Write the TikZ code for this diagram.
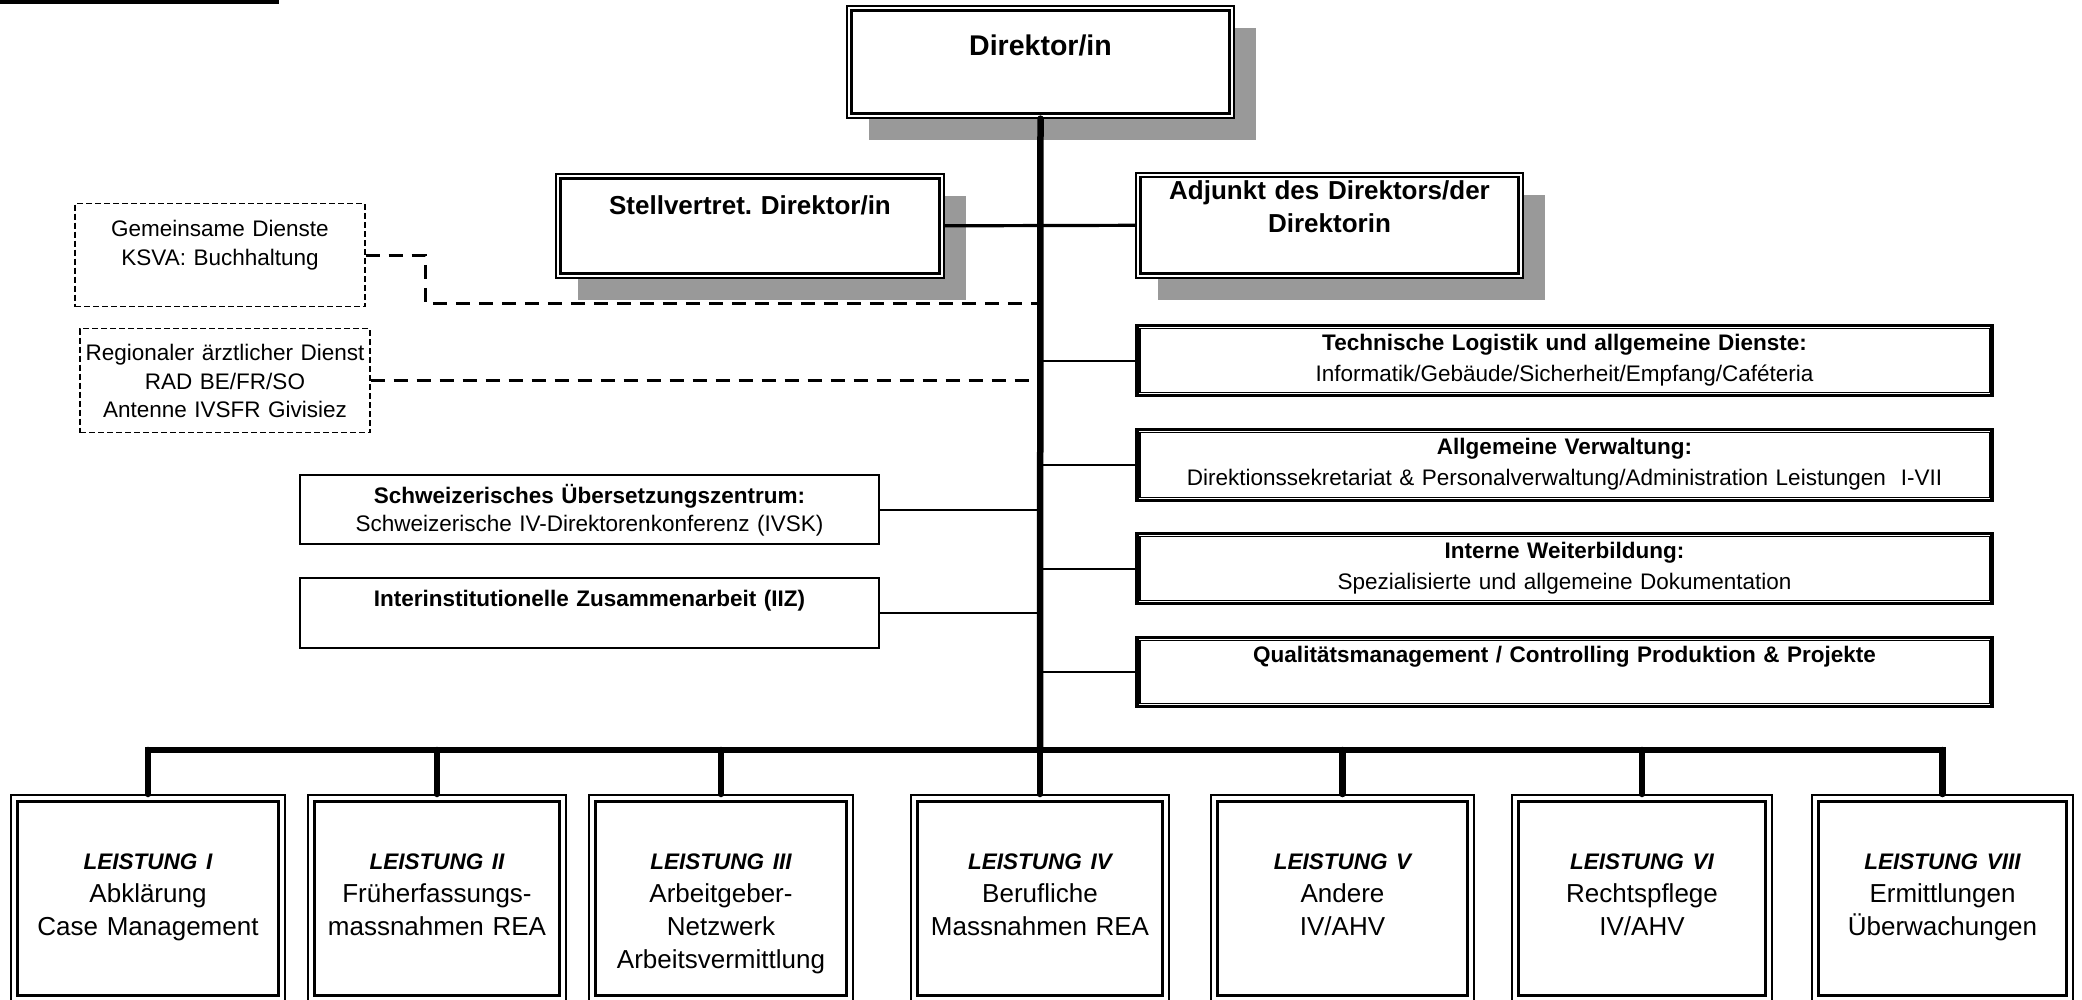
\documentclass[tikz,border=0pt]{standalone}
\usepackage{fontspec}
\setmainfont{Liberation Sans}
\frenchspacing
\usetikzlibrary{calc}
\usetikzlibrary{shadows}
\definecolor{shadowgray}{HTML}{999999}
\tikzset{chief/.style={draw, line width=1.6pt, fill=white, inner sep=0pt, align=center, anchor=north,
    font=\bfseries\fontsize{26}{33}\selectfont,
    drop shadow={shadow xshift=22pt, shadow yshift=-22pt, fill=shadowgray, opacity=1}}}
\tikzset{staff/.style={draw, line width=3.2pt, fill=white, inner sep=0pt, align=center, anchor=north,
    text width=855pt, text height=25pt, font=\fontsize{22.5}{30.5}\selectfont}}
\tikzset{side/.style={draw, line width=2pt, inner sep=0pt, align=center, anchor=north,
    text width=579pt, text height=28pt, font=\fontsize{22.5}{28}\selectfont}}
\tikzset{ext/.style={draw, dash pattern=on 6pt off 3pt, line width=1.4pt, inner sep=0pt, align=center,
    anchor=north, text width=290pt, font=\fontsize{22.5}{28.5}\selectfont}}
\tikzset{leist/.style={draw, line width=1.6pt, inner sep=0pt, align=center, anchor=north,
    text height=75pt, text depth=132pt, font=\fontsize{26}{33}\selectfont}}
\tikzset{trunk/.style={line width=6.5pt, line cap=round}}
\tikzset{branch/.style={line width=2pt}}
\tikzset{ext link/.style={line width=3pt, dash pattern=on 14pt off 9pt}}
\newcommand{\ltitle}[1]{{\fontsize{22.5}{33}\selectfont\bfseries\itshape #1}}

\begin{document}
\begin{tikzpicture}[x=1pt, y=-1pt]
    \useasboundingbox (0,0) rectangle (2082,999);

    \node[chief, text width=387pt, text height=50pt, text depth=62pt, font=\bfseries\fontsize{28.5}{34}\selectfont] (dir) at (1040.5,5) {Direktor/in};
    \node[chief, text width=388pt, text height=41pt, text depth=63pt] (stv) at (750,173) {Stellvertret. Direktor/in};
    \node[chief, text width=387pt, text height=27pt, text depth=78pt] (adj) at (1329.5,172) {Adjunkt des Direktors/der\\Direktorin};

    \node[ext, text height=33pt, text depth=70pt] (gd) at (220,203) {Gemeinsame Dienste\\KSVA: Buchhaltung};
    \node[ext, text height=32pt, text depth=72pt] (rad) at (225,328) {Regionaler ärztlicher Dienst\\RAD BE/FR/SO\\Antenne IVSFR Givisiez};

    \node[side, text depth=41pt] (sch) at (589.5,474) {\textbf{Schweizerisches Übersetzungszentrum:}\\Schweizerische IV-Direktorenkonferenz (IVSK)};
    \node[side, text depth=42pt] (iiz) at (589.5,577) {\textbf{Interinstitutionelle Zusammenarbeit (IIZ)}};

    \node[staff, text depth=45pt] (tech) at (1564.5,324) {\textbf{Technische Logistik und allgemeine Dienste:}\\Informatik/Gebäude/Sicherheit/Empfang/Caféteria};
    \node[staff, text depth=46pt] (allg) at (1564.5,428) {\textbf{Allgemeine Verwaltung:}\\Direktionssekretariat \& Personalverwaltung/Administration Leistungen\ \ I-VII};
    \node[staff, text depth=45pt] (intern) at (1564.5,532) {\textbf{Interne Weiterbildung:}\\Spezialisierte und allgemeine Dokumentation};
    \node[staff, text depth=44pt] (qual) at (1564.5,636) {\textbf{Qualitätsmanagement / Controlling Produktion \& Projekte}};

    \node[leist, text width=274pt] (L1) at (148,794) {\ltitle{LEISTUNG I}\\Abklärung\\Case Management};
    \node[leist, text width=258pt] (L2) at (437,794) {\ltitle{LEISTUNG II}\\Früherfassungs-\\massnahmen REA};
    \node[leist, text width=264pt] (L3) at (721,794) {\ltitle{LEISTUNG III}\\Arbeitgeber-\\Netzwerk\\Arbeitsvermittlung};
    \node[leist, text width=258pt] (L4) at (1040,794) {\ltitle{LEISTUNG IV}\\Berufliche\\Massnahmen REA};
    \node[leist, text width=263pt] (L5) at (1342.5,794) {\ltitle{LEISTUNG V}\\Andere\\IV/AHV};
    \node[leist, text width=260pt] (L6) at (1642,794) {\ltitle{LEISTUNG VI}\\Rechtspflege\\IV/AHV};
    \node[leist, text width=261pt] (L7) at (1942.5,794) {\ltitle{LEISTUNG VIII}\\Ermittlungen\\Überwachungen};

    \foreach \n/\d in {dir/5.5, stv/5.5, adj/5, L1/7.5, L2/7.5, L3/7.5, L4/7.5, L5/7.5, L6/7.5, L7/7.5}
        \draw[line width=2.8pt] ($(\n.north west)+(\d,\d)$) rectangle ($(\n.south east)+(-\d,-\d)$);
    \foreach \n in {tech, allg, intern, qual}
        \draw[line width=1.2pt] ($(\n.north west)+(4.5,4.5)$) rectangle ($(\n.south east)+(-4.5,-4.5)$);

    \coordinate (bus) at (1040,750);
    \coordinate (gdbend) at (425,303);

    \draw[trunk] (dir.south) -- (bus);
    \draw[line width=6.5pt, line join=miter] (L1.north) -- (L1.north |- bus) -- (L7.north |- bus) -- (L7.north);
    \foreach \n in {L1, L2, L3, L4, L5, L6, L7}
        \draw[trunk] (\n.north |- bus) -- (\n.north);

    \draw[line width=3.2pt] (stv.east) -- (adj.west);

    \draw[ext link] (gd.east) -| (gdbend) -- (gdbend -| dir.south);
    \draw[ext link] (rad.east) -- (rad.east -| dir.south);

    \draw[branch] (sch.east) -- (sch.east -| dir.south);
    \draw[branch] (iiz.east) -- (iiz.east -| dir.south);
    \foreach \n in {tech, allg, intern, qual}
        \draw[branch] (\n.west -| dir.south) -- (\n.west);

    \draw[line width=3.5pt] (0,1.75) -- (279,1.75);
\end{tikzpicture}
\end{document}
